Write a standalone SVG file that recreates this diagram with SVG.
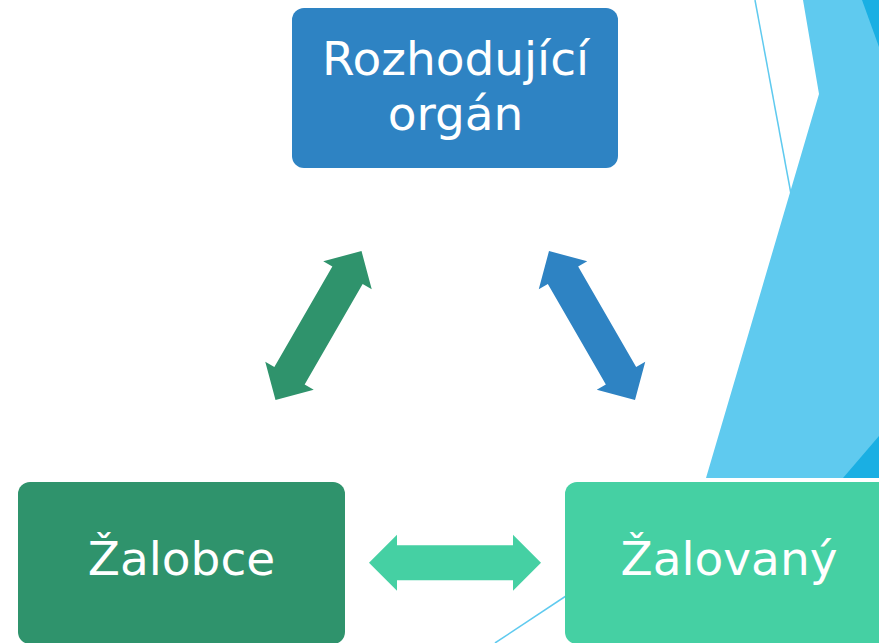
<svg xmlns="http://www.w3.org/2000/svg" width="879" height="643" viewBox="0 0 879 643">
  <defs>
    <style>
      .lbl { font-family: "DejaVu Sans", "Verdana", sans-serif; font-size: 47px; fill: #FFFFFF; text-anchor: middle; }
      .deco { stroke: #5FCAEF; stroke-width: 1.5; fill: none; }
    </style>
    <polygon id="dblArrow" points="-86,0 -58,-28 -58,-17.5 58,-17.5 58,-28 86,0 58,28 58,17.5 -58,17.5 -58,28"/>
  </defs>
  <rect width="879" height="643" fill="#FFFFFF"/>
  <g id="background">
    <polygon points="803,0 879,0 879,478 706,478 819,94" fill="#5FCAEF"/>
    <polygon points="862,0 879,0 879,47" fill="#1AAFE3"/>
    <polygon points="843,478 879,478 879,436" fill="#1AAFE3"/>
    <line class="deco" x1="755" y1="0" x2="791" y2="194"/>
    <line class="deco" x1="495" y1="643" x2="575" y2="590"/>
  </g>
  <g id="connectors">
    <use href="#dblArrow" fill="#2F936C" transform="translate(318.5,325.5) rotate(-60)"/>
    <use href="#dblArrow" fill="#2E83C3" transform="translate(592,325.5) rotate(60)"/>
    <use href="#dblArrow" fill="#45D0A3" transform="translate(455,562.7)"/>
  </g>
  <g id="node-rozhodujici">
    <rect x="292" y="8" width="326" height="160" rx="12" fill="#2E83C3"/>
    <text class="lbl" x="455.5" y="75">Rozhodující</text>
    <text class="lbl" x="455.5" y="130">orgán</text>
  </g>
  <g id="node-zalobce">
    <rect x="18" y="482" width="327" height="162" rx="12" fill="#2F936C"/>
    <text class="lbl" x="181.5" y="575">Žalobce</text>
  </g>
  <g id="node-zalovany">
    <rect x="565" y="482" width="327" height="162" rx="12" fill="#45D0A3"/>
    <text class="lbl" x="729" y="575">Žalovaný</text>
  </g>
</svg>
